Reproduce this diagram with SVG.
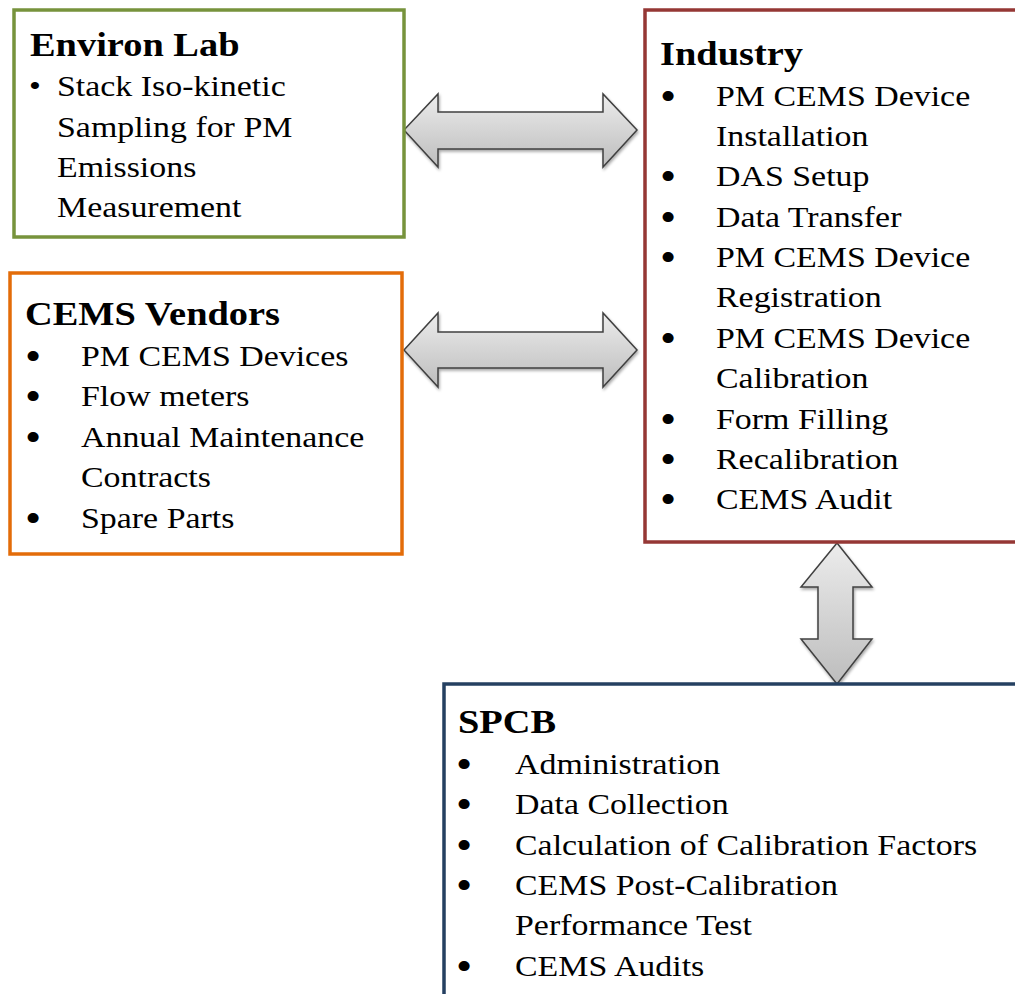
<svg xmlns="http://www.w3.org/2000/svg" width="1015" height="994" viewBox="0 0 1015 994">
<defs>
<linearGradient id="g" x1="0" y1="0" x2="0" y2="1"><stop offset="0" stop-color="#ececec"/><stop offset="1" stop-color="#bdbdbd"/></linearGradient>
<filter id="sh" x="-10%" y="-10%" width="130%" height="130%"><feGaussianBlur in="SourceAlpha" stdDeviation="1.5"/><feOffset dx="1" dy="2"/><feComponentTransfer><feFuncA type="linear" slope="0.35"/></feComponentTransfer><feMerge><feMergeNode/><feMergeNode in="SourceGraphic"/></feMerge></filter>
</defs>
<style>
.box{fill:#fff;stroke-width:3.5}
.h{font-family:"Liberation Serif",serif;font-weight:bold;font-size:34px;fill:#000}
.t{font-family:"Liberation Serif",serif;font-size:30px;fill:#000}
.b{font-family:"Liberation Serif",serif;font-size:42px;fill:#000}
.arr{fill:url(#g);stroke:#404040;stroke-width:1.5;stroke-linejoin:miter}
</style>
<rect width="1015" height="994" fill="#fff"/>
<g id="connectors">
<path class="arr" filter="url(#sh)" d="M404,130 L438,94 L438,112 L603,112 L603,94 L637,130 L603,167 L603,149 L438,149 L438,167 Z"/>
<path class="arr" filter="url(#sh)" d="M404,350 L438,313 L438,332 L603,332 L603,313 L637,350 L603,387 L603,368 L438,368 L438,387 Z"/>
<path class="arr" filter="url(#sh)" d="M837,543 L872,587 L853,587 L853,639 L872,639 L837,684 L801,639 L818,639 L818,587 L801,587 Z"/>
</g>
<g id="environ-lab">
<rect class="box" x="14" y="10" width="390" height="227" stroke="#77933C"/>
<text class="h" transform="matrix(1.13,0,0,1,30,56)">Environ Lab</text>
<text class="t" transform="matrix(1.13,0,0,1,29,96)">•</text>
<text class="t" transform="matrix(1.13,0,0,1,57,96)">Stack Iso-kinetic</text>
<text class="t" transform="matrix(1.13,0,0,1,57,137)">Sampling for PM</text>
<text class="t" transform="matrix(1.13,0,0,1,57,177)">Emissions</text>
<text class="t" transform="matrix(1.13,0,0,1,57,217)">Measurement</text>
</g>
<g id="cems-vendors">
<rect class="box" x="10" y="273" width="392" height="281" stroke="#E36C09"/>
<text class="h" transform="matrix(1.13,0,0,1,25,325)">CEMS Vendors</text>
<text class="b" transform="matrix(1.1,0,0,1,25,370)">•</text>
<text class="t" transform="matrix(1.13,0,0,1,81,366)">PM CEMS  Devices</text>
<text class="b" transform="matrix(1.1,0,0,1,25,410)">•</text>
<text class="t" transform="matrix(1.13,0,0,1,81,406)">Flow meters</text>
<text class="b" transform="matrix(1.1,0,0,1,25,451)">•</text>
<text class="t" transform="matrix(1.13,0,0,1,81,447)">Annual Maintenance</text>
<text class="t" transform="matrix(1.13,0,0,1,81,487)">Contracts</text>
<text class="b" transform="matrix(1.1,0,0,1,25,532)">•</text>
<text class="t" transform="matrix(1.13,0,0,1,81,528)">Spare Parts</text>
</g>
<g id="industry">
<rect class="box" x="645" y="10" width="380" height="532" stroke="#953735"/>
<text class="h" transform="matrix(1.13,0,0,1,660,65)">Industry</text>
<text class="b" transform="matrix(1.1,0,0,1,660,110)">•</text>
<text class="t" transform="matrix(1.13,0,0,1,716,106)">PM CEMS  Device</text>
<text class="t" transform="matrix(1.13,0,0,1,716,146)">Installation</text>
<text class="b" transform="matrix(1.1,0,0,1,660,190)">•</text>
<text class="t" transform="matrix(1.13,0,0,1,716,186)">DAS Setup</text>
<text class="b" transform="matrix(1.1,0,0,1,660,231)">•</text>
<text class="t" transform="matrix(1.13,0,0,1,716,227)">Data Transfer</text>
<text class="b" transform="matrix(1.1,0,0,1,660,271)">•</text>
<text class="t" transform="matrix(1.13,0,0,1,716,267)">PM CEMS  Device</text>
<text class="t" transform="matrix(1.13,0,0,1,716,307)">Registration</text>
<text class="b" transform="matrix(1.1,0,0,1,660,352)">•</text>
<text class="t" transform="matrix(1.13,0,0,1,716,348)">PM CEMS  Device</text>
<text class="t" transform="matrix(1.13,0,0,1,716,388)">Calibration</text>
<text class="b" transform="matrix(1.1,0,0,1,660,433)">•</text>
<text class="t" transform="matrix(1.13,0,0,1,716,429)">Form Filling</text>
<text class="b" transform="matrix(1.1,0,0,1,660,473)">•</text>
<text class="t" transform="matrix(1.13,0,0,1,716,469)">Recalibration</text>
<text class="b" transform="matrix(1.1,0,0,1,660,513)">•</text>
<text class="t" transform="matrix(1.13,0,0,1,716,509)">CEMS Audit</text>
</g>
<g id="spcb">
<rect class="box" x="444" y="684" width="590" height="330" stroke="#254061"/>
<text class="h" transform="matrix(1.13,0,0,1,458,733)">SPCB</text>
<text class="b" transform="matrix(1.1,0,0,1,456,778)">•</text>
<text class="t" transform="matrix(1.13,0,0,1,515,774)">Administration</text>
<text class="b" transform="matrix(1.1,0,0,1,456,818)">•</text>
<text class="t" transform="matrix(1.13,0,0,1,515,814)">Data Collection</text>
<text class="b" transform="matrix(1.1,0,0,1,456,859)">•</text>
<text class="t" transform="matrix(1.13,0,0,1,515,855)">Calculation of Calibration Factors</text>
<text class="b" transform="matrix(1.1,0,0,1,456,899)">•</text>
<text class="t" transform="matrix(1.13,0,0,1,515,895)">CEMS Post-Calibration</text>
<text class="t" transform="matrix(1.13,0,0,1,515,935)">Performance Test</text>
<text class="b" transform="matrix(1.1,0,0,1,456,980)">•</text>
<text class="t" transform="matrix(1.13,0,0,1,515,976)">CEMS Audits</text>
</g>
</svg>
